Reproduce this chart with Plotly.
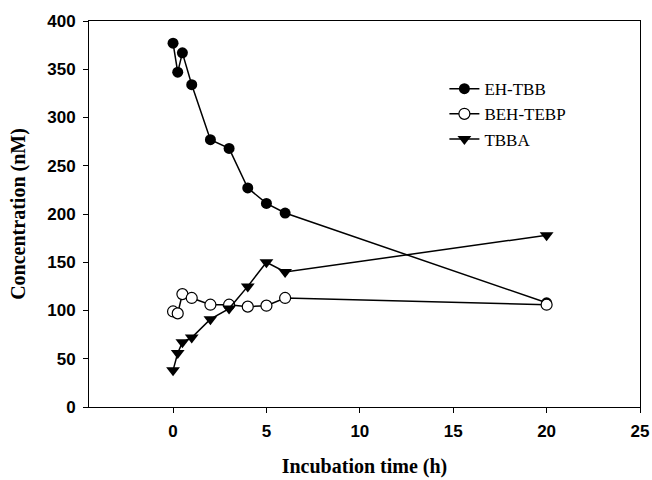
import plotly.graph_objects as go

time_h = [0, 0.25, 0.5, 1, 2, 3, 4, 5, 6, 20]
eh_tbb = [377, 347, 367, 334, 277, 268, 227, 211, 201, 108]
beh_tebp = [99, 97, 117, 113, 106, 106, 104, 105, 113, 106]
tbba = [38, 56, 67, 72, 91, 102, 125, 150, 140, 178]

x_ticks = [0, 5, 10, 15, 20, 25]
y_ticks = [0, 50, 100, 150, 200, 250, 300, 350, 400]

line = dict(color="black", width=1.5)
fig = go.Figure()
fig.add_trace(go.Scatter(x=time_h, y=eh_tbb, name="EH-TBB", mode="lines+markers",
                         line=line, marker=dict(symbol="circle", size=11, color="black")))
fig.add_trace(go.Scatter(x=time_h, y=beh_tebp, name="BEH-TEBP", mode="lines+markers",
                         line=line, marker=dict(symbol="circle", size=11, color="white",
                                                line=dict(color="black", width=1.2))))
fig.add_trace(go.Scatter(x=time_h, y=tbba, name="TBBA", mode="lines+markers",
                         line=line, marker=dict(symbol="triangle-down", size=12, color="black")))

axis_common = dict(showline=True, linecolor="black", linewidth=1, mirror=True,
                   ticks="outside", ticklen=5, tickcolor="black", showgrid=False,
                   zeroline=False, automargin=False,
                   tickfont=dict(family="Liberation Sans, Arial", size=17, color="black", weight="bold"))
fig.update_xaxes(range=[-4.5, 25], tickvals=x_ticks, ticktext=[str(v) for v in x_ticks],
                 ticklabelstandoff=4,
                 title=dict(text="Incubation time (h)", standoff=18,
                            font=dict(family="Liberation Serif, Times New Roman", size=20,
                                      color="black", weight="bold")),
                 **axis_common)
fig.update_yaxes(range=[0, 400], tickvals=y_ticks, ticktext=[str(v) for v in y_ticks],
                 ticklabelstandoff=4,
                 title=dict(text="Concentration (nM)", standoff=16,
                            font=dict(family="Liberation Serif, Times New Roman", size=20,
                                      color="black", weight="bold")),
                 **axis_common)
fig.update_layout(
    width=652, height=480,
    margin=dict(l=89, r=12, t=21, b=73),
    plot_bgcolor="white", paper_bgcolor="white",
    legend=dict(x=0.645, y=0.87, xanchor="left", yanchor="top",
                font=dict(family="Liberation Serif, Times New Roman", size=17, color="black"),
                bgcolor="rgba(0,0,0,0)", tracegroupgap=0),
)
fig.write_html("out.html")
